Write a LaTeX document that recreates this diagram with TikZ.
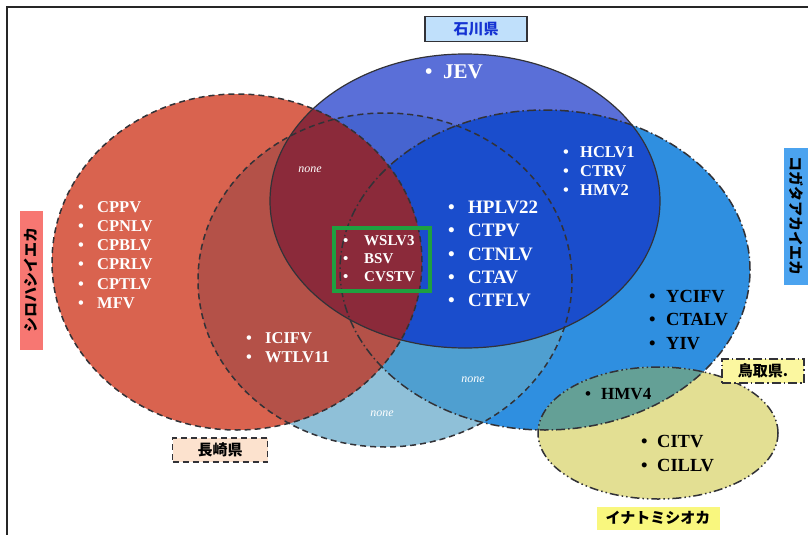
\documentclass[tikz,border=0pt]{standalone}
\usepackage{fontspec}
\setmainfont{Liberation Serif}
\newfontfamily\jpfont{Noto Sans CJK JP}
\usepackage{tikz}
\usetikzlibrary{positioning}

\definecolor{lbC}{RGB}{47,143,224}
\definecolor{midC}{RGB}{143,192,216}
\definecolor{midlbC}{RGB}{79,159,208}
\definecolor{redC}{RGB}{217,99,79}
\definecolor{redmidC}{RGB}{180,81,72}
\definecolor{blueC}{RGB}{90,111,216}
\definecolor{bluemidC}{RGB}{70,100,208}
\definecolor{bluelbC}{RGB}{26,77,204}
\definecolor{blueredC}{RGB}{139,42,58}
\definecolor{yelC}{RGB}{227,223,147}
\definecolor{yellbC}{RGB}{100,160,150}
\definecolor{edgeC}{RGB}{50,50,55}

\newlength\bulletgap
\newcommand\vitem{\makebox[\bulletgap][l]{\textbullet}}

% the five sets
\newcommand\redset{(237,262) ellipse [x radius=185pt, y radius=168pt]}
\newcommand\midset{(385,280) ellipse [x radius=187pt, y radius=167pt]}
\newcommand\lbset{(545,270) ellipse [x radius=205pt, y radius=160pt]}
\newcommand\blueset{(465,201) ellipse [x radius=195pt, y radius=147pt]}
\newcommand\yelset{(658,433) ellipse [x radius=120pt, y radius=66pt]}

\tikzset{
  setedge/.style = {draw=edgeC, line width=1.5pt},
  vlist/.style 2 args = {align=left, inner sep=0pt, anchor=west, text=white,
    font={\bfseries\fontsize{#1}{#2}\selectfont}},
  nonelabel/.style = {inner sep=0pt, text=white, font=\itshape\fontsize{12}{14}\selectfont},
  jplabel/.style = {inner sep=0pt, font=\jpfont\bfseries\fontsize{15}{17}\selectfont}% set names
}

\begin{document}
\begin{tikzpicture}[x=1pt,y=-1pt]
    \useasboundingbox (0,0) rectangle (808,535);
    \draw[line width=1.5pt, black!85] (7,535) -- (7,7) -- (808,7);

    % fills, overlaps coloured by clipping
    \fill[lbC] \lbset;
    \fill[midC] \midset;
    \begin{scope}
        \clip \midset;
        \fill[midlbC] \lbset;
    \end{scope}
    \fill[redC] \redset;
    \begin{scope}
        \clip \redset;
        \fill[redmidC] \midset;
    \end{scope}
    \fill[blueC] \blueset;
    \begin{scope}
        \clip \blueset;
        \fill[bluemidC] \midset;
        \fill[bluelbC] \lbset;
        \fill[blueredC] \redset;
    \end{scope}
    \fill[yelC] \yelset;
    \begin{scope}
        \clip \yelset;
        \fill[yellbC] \lbset;
    \end{scope}

    % outlines
    \draw[setedge, dash pattern=on 6pt off 4pt] \redset;
    \draw[setedge, dash pattern=on 6pt off 4pt] \midset;
    \draw[setedge, dash pattern=on 9pt off 3pt on 1.5pt off 3pt] \lbset;
    \draw[setedge, line width=1.2pt] \blueset;
    \draw[setedge, dash pattern=on 9pt off 3pt on 1.5pt off 3pt on 1.5pt off 3pt] \yelset;

    % set names
    \node[jplabel, draw=edgeC, line width=1.8pt, fill={rgb,255:red,192;green,224;blue,251},
        text={rgb,255:red,20;green,50;blue,210}, minimum width=102pt, minimum height=25pt]
        (ishikawa) at (476,29) {石川県};
    \node[jplabel, draw=edgeC, line width=1.6pt, dash pattern=on 6pt off 4pt,
        fill={rgb,255:red,252;green,226;blue,206},
        minimum width=95pt, minimum height=24pt] (nagasaki) at (220,450) {長崎県};
    \node[jplabel, draw=edgeC, line width=1.6pt, dash pattern=on 9pt off 3pt on 1.5pt off 3pt,
        fill={rgb,255:red,251;green,247;blue,160},
        minimum width=82pt, minimum height=24pt] (tottori) at (763,371) {鳥取県.};
    \node[jplabel, fill={rgb,255:red,249;green,247;blue,126},
        minimum width=123pt, minimum height=23pt] (inatomi) at (658,518) {イナトミシオカ};
    \node[jplabel, rotate=-90, fill={rgb,255:red,75;green,163;blue,239},
        minimum width=137pt, minimum height=24pt] (kogata) at (796,216) {コガタアカイエカ};
    \node[jplabel, rotate=90, fill={rgb,255:red,247;green,119;blue,114},
        minimum width=139pt, minimum height=23pt] (shirohashi) at (31,280) {シロハシイエカ};

    % virus lists
    \node[vlist={16.5}{19.2}] (redlist) at (78,255)
        {\global\bulletgap=19pt\vitem CPPV\\ \vitem CPNLV\\ \vitem CPBLV\\
         \vitem CPRLV\\ \vitem CPTLV\\ \vitem MFV};
    \node[vlist={21}{24}] (jev) at (425,72) {\global\bulletgap=18pt\vitem JEV};
    \node[vlist={19}{23.2}] (centrelist) at (448,254)
        {\global\bulletgap=20pt\vitem HPLV22\\ \vitem CTPV\\ \vitem CTNLV\\
         \vitem CTAV\\ \vitem CTFLV};
    \node[vlist={16.5}{19}] (hclvlist) at (563,171)
        {\global\bulletgap=17pt\vitem HCLV1\\ \vitem CTRV\\ \vitem HMV2};
    \node[vlist={15}{18}] (wslvlist) at (343,259)
        {\global\bulletgap=21pt\vitem WSLV3\\ \vitem BSV\\ \vitem CVSTV};
    \node[draw={rgb,255:red,30;green,160;blue,64}, line width=3.2pt, inner sep=0pt,
        minimum width=96pt, minimum height=63pt] (wslvframe) at (382,259.5) {};
    \node[vlist={16.5}{19}] (icifvlist) at (246,348)
        {\global\bulletgap=19pt\vitem ICIFV\\ \vitem WTLV11};
    \node[vlist={18.5}{23.5}, text=black] (ycifvlist) at (649,320)
        {\global\bulletgap=17pt\vitem YCIFV\\ \vitem CTALV\\ \vitem YIV};
    \node[vlist={17}{20}, text=black] (hmv4) at (585,394)
        {\global\bulletgap=16pt\vitem HMV4};
    \node[vlist={18.5}{24}, text=black] (citvlist) at (641,454)
        {\global\bulletgap=16pt\vitem CITV\\ \vitem CILLV};

    % empty intersections
    \node[nonelabel] (none1) at (310,170) {none};
    \node[nonelabel] (none2) at (473,380) {none};
    \node[nonelabel] (none3) at (382,414) {none};
\end{tikzpicture}
\end{document}
